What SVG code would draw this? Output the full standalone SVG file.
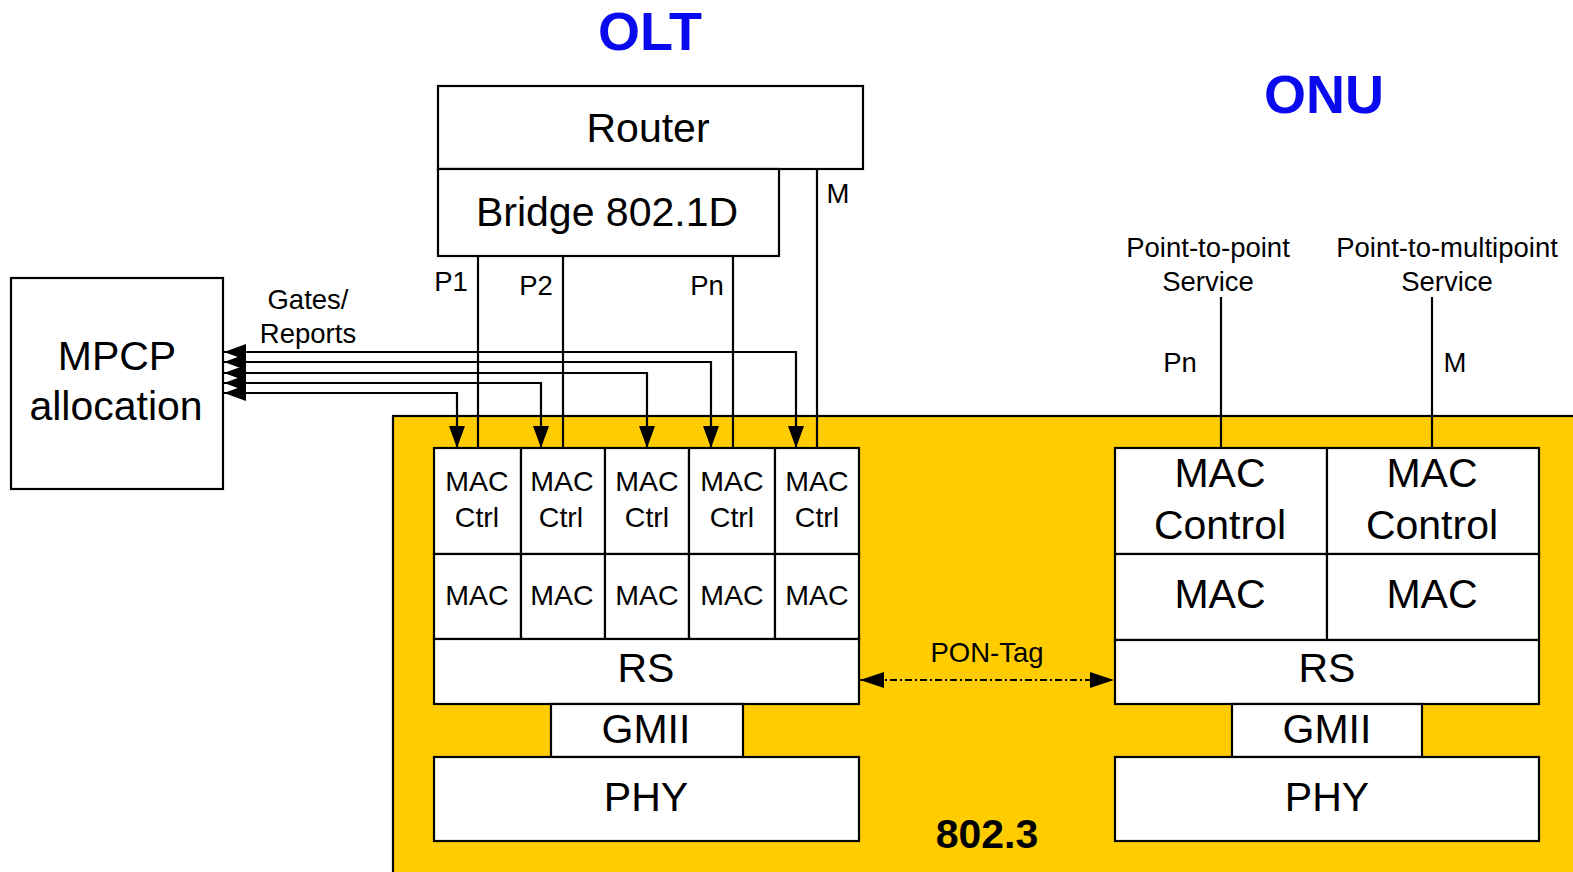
<svg xmlns="http://www.w3.org/2000/svg" width="1573" height="872" viewBox="0 0 1573 872">
<style>
.box{fill:#fff;stroke:#000;stroke-width:2.2}
.ln{fill:none;stroke:#000;stroke-width:2.2}
text{font-family:"Liberation Sans",Arial,sans-serif;fill:#000;text-anchor:middle}
.big{font-size:41px}
.sm{font-size:27.5px}
.mac{font-size:28.5px}
.title{font-size:54px;font-weight:bold;fill:#0A0AEE}
</style>
<defs>
<marker id="ah" markerUnits="userSpaceOnUse" viewBox="0 0 22 16" markerWidth="22" markerHeight="16" refX="22" refY="8" orient="auto-start-reverse">
<path d="M0,0 L22,8 L0,16 z" fill="#000"/>
</marker>
<marker id="ah2" markerUnits="userSpaceOnUse" viewBox="0 0 24 16" markerWidth="24" markerHeight="16" refX="24" refY="8" orient="auto-start-reverse">
<path d="M0,0 L24,8 L0,16 z" fill="#000"/>
</marker>
</defs>

<rect id="std8023" x="393" y="416" width="1200" height="500" fill="#FFCC00" stroke="#000" stroke-width="2.2"/>

<text class="title" x="650" y="50">OLT</text>
<text class="title" x="1324" y="113">ONU</text>

<g id="router"><rect class="box" x="438" y="86" width="425" height="83"/><text class="big" x="648" y="142">Router</text></g>
<g id="bridge"><rect class="box" x="438" y="169" width="341" height="87"/><text class="big" x="607" y="226">Bridge 802.1D</text></g>

<g id="mpcp"><rect class="box" x="11" y="278" width="212" height="211"/><text class="big" x="117" y="370">MPCP</text><text class="big" x="116" y="420">allocation</text></g>

<g id="connectors">
<path class="ln" d="M478 256 V448"/>
<path class="ln" d="M563 256 V448"/>
<path class="ln" d="M733 256 V448"/>
<path class="ln" d="M817 169 V448"/>
<path class="ln" d="M224 393 H457 V448" marker-start="url(#ah)" marker-end="url(#ah)"/>
<path class="ln" d="M224 383 H541 V448" marker-start="url(#ah)" marker-end="url(#ah)"/>
<path class="ln" d="M224 373 H647 V448" marker-start="url(#ah)" marker-end="url(#ah)"/>
<path class="ln" d="M224 362 H711 V448" marker-start="url(#ah)" marker-end="url(#ah)"/>
<path class="ln" d="M224 352 H796 V448" marker-start="url(#ah)" marker-end="url(#ah)"/>
<path class="ln" d="M1221 297 V448"/>
<path class="ln" d="M1432 297 V448"/>
<path class="ln" d="M860 680 H1114" stroke-dasharray="7 3 2 3" marker-start="url(#ah2)" marker-end="url(#ah2)"/>
</g>

<text class="sm" x="838" y="203">M</text>
<text class="sm" x="451" y="291">P1</text>
<text class="sm" x="536" y="295">P2</text>
<text class="sm" x="707" y="295">Pn</text>
<text class="sm" x="308" y="309">Gates/</text>
<text class="sm" x="308" y="343">Reports</text>
<text class="sm" x="1208" y="257">Point-to-point</text>
<text class="sm" x="1208" y="291">Service</text>
<text class="sm" x="1447" y="257">Point-to-multipoint</text>
<text class="sm" x="1447" y="291">Service</text>
<text class="sm" x="1180" y="372">Pn</text>
<text class="sm" x="1455" y="372">M</text>
<text class="sm" x="987" y="662">PON-Tag</text>
<text x="987" y="848" style="font-size:41px;font-weight:bold">802.3</text>

<g id="olt-stack">
<rect class="box" x="434" y="448" width="87" height="106"/>
<rect class="box" x="521" y="448" width="84" height="106"/>
<rect class="box" x="605" y="448" width="84" height="106"/>
<rect class="box" x="689" y="448" width="86" height="106"/>
<rect class="box" x="775" y="448" width="84" height="106"/>
<rect class="box" x="434" y="554" width="87" height="85"/>
<rect class="box" x="521" y="554" width="84" height="85"/>
<rect class="box" x="605" y="554" width="84" height="85"/>
<rect class="box" x="689" y="554" width="86" height="85"/>
<rect class="box" x="775" y="554" width="84" height="85"/>
<g class="mac">
<text class="mac" x="477" y="491">MAC</text><text class="mac" x="477" y="527">Ctrl</text>
<text class="mac" x="562" y="491">MAC</text><text class="mac" x="561" y="527">Ctrl</text>
<text class="mac" x="647" y="491">MAC</text><text class="mac" x="647" y="527">Ctrl</text>
<text class="mac" x="732" y="491">MAC</text><text class="mac" x="732" y="527">Ctrl</text>
<text class="mac" x="817" y="491">MAC</text><text class="mac" x="817" y="527">Ctrl</text>
<text class="mac" x="477" y="605">MAC</text>
<text class="mac" x="562" y="605">MAC</text>
<text class="mac" x="647" y="605">MAC</text>
<text class="mac" x="732" y="605">MAC</text>
<text class="mac" x="817" y="605">MAC</text>
</g>
<rect class="box" x="434" y="639" width="425" height="65"/><text class="big" x="646" y="682">RS</text>
<rect class="box" x="551" y="704" width="192" height="53"/><text class="big" x="646" y="743">GMII</text>
<rect class="box" x="434" y="757" width="425" height="84"/><text class="big" x="646" y="811">PHY</text>
</g>

<g id="onu-stack">
<rect class="box" x="1115" y="448" width="212" height="106"/>
<rect class="box" x="1327" y="448" width="212" height="106"/>
<rect class="box" x="1115" y="554" width="212" height="86"/>
<rect class="box" x="1327" y="554" width="212" height="86"/>
<text class="big" x="1220" y="487">MAC</text><text class="big" x="1220" y="539">Control</text>
<text class="big" x="1432" y="487">MAC</text><text class="big" x="1432" y="539">Control</text>
<text class="big" x="1220" y="608">MAC</text>
<text class="big" x="1432" y="608">MAC</text>
<rect class="box" x="1115" y="640" width="424" height="64"/><text class="big" x="1327" y="682">RS</text>
<rect class="box" x="1232" y="704" width="190" height="53"/><text class="big" x="1327" y="743">GMII</text>
<rect class="box" x="1115" y="757" width="424" height="84"/><text class="big" x="1327" y="811">PHY</text>
</g>
</svg>
